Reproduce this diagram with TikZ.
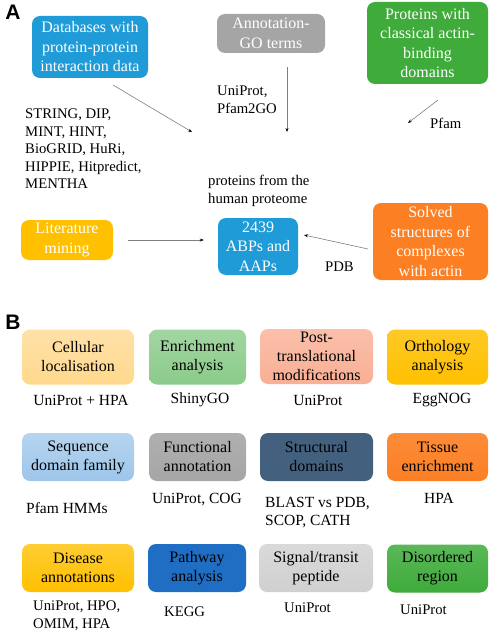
\documentclass[tikz,border=0pt]{standalone}
\usepackage{fontspec}
\setmainfont{Liberation Serif}
\newfontfamily\labfont{Liberation Sans}
\usetikzlibrary{arrows.meta}
\definecolor{blueA}{HTML}{1F9BD7}
\definecolor{grayA}{HTML}{A5A5A5}
\definecolor{greenA}{HTML}{3EAB3A}
\definecolor{goldA}{HTML}{FFC000}
\definecolor{orangeA}{HTML}{FC7F24}
\definecolor{cellC}{HTML}{FFD88C}
\definecolor{enrC}{HTML}{8BCB8A}
\definecolor{postC}{HTML}{F9AF95}
\definecolor{seqC}{HTML}{9DC6EA}
\definecolor{funcC}{HTML}{A6A6A6}
\definecolor{strC}{HTML}{44607F}
\definecolor{pathC}{HTML}{1F6EC4}
\definecolor{sigC}{HTML}{D0D0D0}
\definecolor{arrC}{HTML}{7F7F7F}
\tikzset{
  boxA/.style={rounded corners=8pt, text=white, align=center, inner sep=0pt,
    font=\fontsize{16}{19.5}\selectfont},
  boxB/.style={rounded corners=8pt, text=black, align=center, inner sep=0pt,
    font=\fontsize{16}{19}\selectfont},
  lbl/.style={align=left, inner sep=0pt, font=\fontsize{14.7}{17.5}\selectfont},
  lblB/.style={align=left, inner sep=0pt, font=\fontsize{15.5}{18}\selectfont},
  panel/.style={inner sep=0pt, font=\labfont\bfseries\fontsize{21}{21}\selectfont},
  arr/.style={draw=arrC, line width=0.6pt, -{Stealth[length=4pt,width=3pt,black]}}
}
\begin{document}
\begin{tikzpicture}[x=1pt,y=-1pt]
\useasboundingbox (0,0) rectangle (491,631);
% panel labels
\node[panel] (pA) at (13,12) {A};
\node[panel] (pB) at (13,322) {B};
% panel A boxes
\node[boxA, fill=blueA, minimum width=116pt, minimum height=62pt] (db) at (90,47) {Databases with\\protein-protein\\interaction data};
\node[boxA, fill=grayA, minimum width=108pt, minimum height=39pt] (go) at (271,33.5) {Annotation-\\GO terms};
\node[boxA, fill=greenA, minimum width=121pt, minimum height=82pt] (cab) at (427.5,43) {Proteins with\\classical actin-\\binding\\domains};
\node[boxA, fill=goldA, minimum width=92pt, minimum height=40pt] (lit) at (67,240) {Literature\\mining};
\node[boxA, fill=blueA, minimum width=80pt, minimum height=57pt] (abp) at (258,246.5) {2439\\ABPs and\\AAPs};
\node[boxA, fill=orangeA, minimum width=115pt, minimum height=77pt] (sol) at (430.5,241.5) {Solved\\structures of\\complexes\\with actin};
% panel A labels
\node[lbl, anchor=north west] (dbl) at (25,109) {STRING, DIP,\\MINT, HINT,\\BioGRID, HuRi,\\HIPPIE, Hitpredict,\\MENTHA};
\node[lbl, anchor=north west] (gol) at (217,86) {UniProt,\\Pfam2GO};
\node[lbl, anchor=west] (pfl) at (430,123) {Pfam};
\node[lbl, anchor=north west] (hpl) at (208,175) {proteins from the\\human proteome};
\node[lbl, anchor=west] (pdbl) at (325,267) {PDB};
% arrows panel A
\coordinate (a1s) at (113,85);
\coordinate (a1e) at (192,132);
\coordinate (a2s) at (287,67);
\coordinate (a2e) at (287,132);
\coordinate (a3s) at (438,100);
\coordinate (a3e) at (408,123);
\coordinate (a5s) at (368,249);
\coordinate (a5e) at (304,235);
\draw[arr] (a1s) -- (a1e);
\draw[arr] (a2s) -- (a2e);
\draw[arr] (a3s) -- (a3e);
\draw[arr, shorten <=15pt, shorten >=14pt] (lit.east) -- (lit.east -| abp.west);
\draw[arr] (a5s) -- (a5e);
% panel B row 1
\node[boxB, top color=cellC!75!white, bottom color=cellC, minimum width=112pt, minimum height=55pt] (cel) at (78,357) {Cellular\\localisation};
\node[boxB, top color=enrC!80!white, bottom color=enrC, minimum width=97pt, minimum height=55pt] (enr) at (197.5,357) {Enrichment\\analysis};
\node[boxB, top color=postC!80!white, bottom color=postC, minimum width=113pt, minimum height=55pt] (pos) at (316.5,356.5) {Post-\\translational\\modifications};
\node[boxB, top color=goldA!85!white, bottom color=goldA, minimum width=101pt, minimum height=55pt] (ort) at (437.5,357) {Orthology\\analysis};
% row 2
\node[boxB, top color=seqC!75!white, bottom color=seqC, minimum width=112pt, minimum height=48pt] (seq) at (78,457) {Sequence\\domain family};
\node[boxB, top color=funcC!90!white, bottom color=funcC, minimum width=97pt, minimum height=48pt] (fun) at (197.5,457) {Functional\\annotation};
\node[boxB, fill=strC, minimum width=113pt, minimum height=48pt] (str) at (316.5,457) {Structural\\domains};
\node[boxB, top color=orangeA!90!white, bottom color=orangeA, minimum width=101pt, minimum height=48pt] (tis) at (437.5,457) {Tissue\\enrichment};
% row 3
\node[boxB, top color=goldA!80!white, bottom color=goldA, minimum width=112pt, minimum height=48pt] (dis) at (78,568) {Disease\\annotations};
\node[boxB, fill=pathC, minimum width=98pt, minimum height=48pt] (pat) at (197,568) {Pathway\\analysis};
\node[boxB, top color=sigC!80!white, bottom color=sigC, minimum width=114pt, minimum height=48pt] (sig) at (316,568) {Signal/transit\\peptide};
\node[boxB, top color=greenA!85!white, bottom color=greenA, minimum width=101pt, minimum height=48pt] (dso) at (437.5,568.5) {Disordered\\region};
% panel B labels
\node[lblB] (l1) at (81,400) {UniProt + HPA};
\node[lblB] (l2) at (200,400) {ShinyGO};
\node[lblB] (l3) at (318,400) {UniProt};
\node[lblB] (l4) at (442,400) {EggNOG};
\node[lblB, anchor=west] (l5) at (26,508) {Pfam HMMs};
\node[lblB] (l6) at (197,500) {UniProt, COG};
\node[lblB, anchor=north west] (l7) at (265,497) {BLAST vs PDB,\\SCOP, CATH};
\node[lblB] (l8) at (439,498) {HPA};
\node[lbl, anchor=north west] (l9) at (33,601) {UniProt, HPO,\\OMIM, HPA};
\node[lbl, anchor=west] (l10) at (164,612) {KEGG};
\node[lbl, anchor=west] (l11) at (284,608) {UniProt};
\node[lbl, anchor=west] (l12) at (400,610) {UniProt};
\end{tikzpicture}
\end{document}
